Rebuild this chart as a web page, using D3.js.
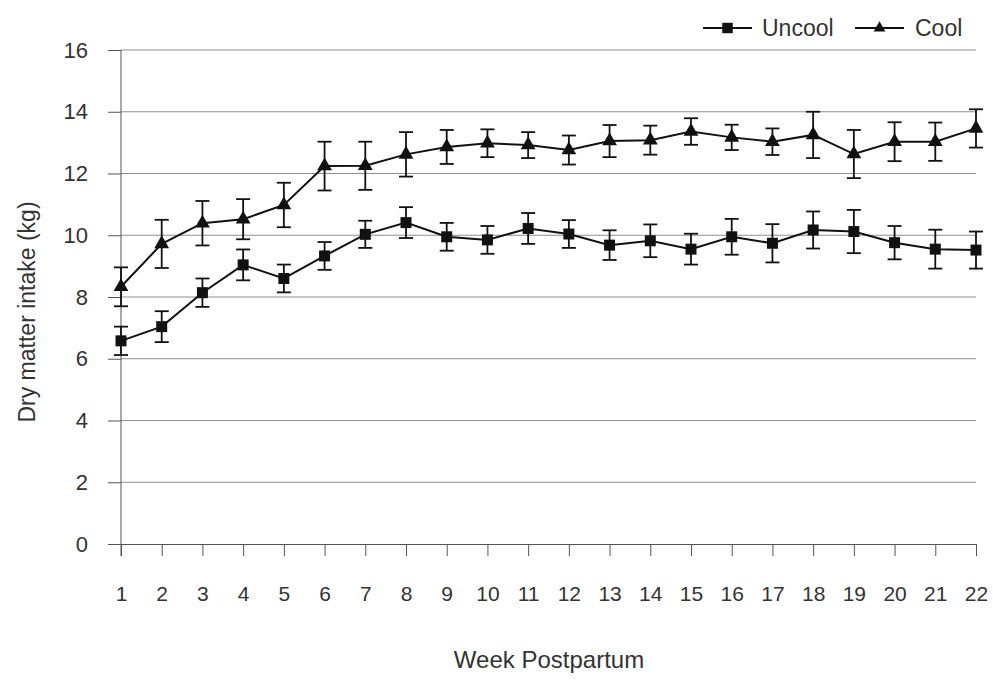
<!DOCTYPE html>
<html>
<head>
<meta charset="utf-8">
<script src="https://cdn.jsdelivr.net/npm/d3@7"></script>
<style>
  html, body { margin: 0; padding: 0; background: #fff; }
  svg { display: block; font-family: "Liberation Sans", Arial, sans-serif; }
</style>
</head>
<body>
<div id="chart"></div>
<script>
// ---- data ----
const weeks = d3.range(1, 23);
const uncool    = [6.58, 7.04, 8.14, 9.04, 8.60, 9.33, 10.03, 10.41, 9.95, 9.85, 10.22, 10.04, 9.68, 9.82, 9.55, 9.95, 9.74, 10.17, 10.12, 9.76, 9.55, 9.52];
const uncoolErr = [0.46, 0.50, 0.46, 0.50, 0.45, 0.45, 0.44, 0.50, 0.45, 0.45, 0.50, 0.45, 0.48, 0.53, 0.50, 0.58, 0.62, 0.60, 0.70, 0.54, 0.63, 0.60];
const cool      = [8.33, 9.72, 10.39, 10.52, 10.98, 12.24, 12.25, 12.62, 12.86, 12.98, 12.92, 12.76, 13.05, 13.08, 13.36, 13.17, 13.03, 13.25, 12.63, 13.03, 13.03, 13.46];
const coolErr   = [0.63, 0.78, 0.72, 0.65, 0.72, 0.79, 0.78, 0.72, 0.55, 0.45, 0.42, 0.47, 0.52, 0.47, 0.43, 0.41, 0.43, 0.75, 0.78, 0.63, 0.62, 0.62];
const yTicks = [0, 2, 4, 6, 8, 10, 12, 14, 16];
const seriesNames = ["Uncool", "Cool"];

const width = 993, height = 685;
const margin = { top: 50, right: 17, bottom: 141, left: 121 };

const svg = d3.select("#chart").append("svg")
  .attr("width", width)
  .attr("height", height);

const x = d3.scalePoint()
  .domain(weeks)
  .range([margin.left, width - margin.right]);

const y = d3.scaleLinear()
  .domain([0, 16])
  .range([height - margin.bottom, margin.top]);

const ink = "#111";
const textColor = "#333";

// gridlines
svg.append("g")
  .selectAll("line")
  .data(yTicks.filter(d => d > 0))
  .join("line")
    .attr("x1", margin.left)
    .attr("x2", width - margin.right)
    .attr("y1", d => y(d))
    .attr("y2", d => y(d))
    .attr("stroke", "#8f8f8f")
    .attr("stroke-width", 1);

// y axis
const yAxis = svg.append("g")
  .attr("transform", `translate(${margin.left},0)`)
  .call(d3.axisLeft(y).tickValues(yTicks).tickSize(13).tickPadding(20).tickSizeOuter(0));
yAxis.select(".domain").attr("stroke", "#555").attr("d", `M0,${y(16)}V${y(0) + 12}`);
yAxis.selectAll(".tick line").attr("stroke", "#555");
yAxis.selectAll("text")
  .attr("fill", textColor)
  .style("font-size", "22px");

// x axis
const xAxis = svg.append("g")
  .attr("transform", `translate(0,${y(0)})`)
  .call(d3.axisBottom(x).tickSize(12).tickPadding(30).tickSizeOuter(0));
xAxis.select(".domain").attr("stroke", "#555");
xAxis.selectAll(".tick line").attr("stroke", "#555");
xAxis.selectAll("text")
  .attr("fill", textColor)
  .style("font-size", "21px");

// axis titles
svg.append("text")
  .attr("x", 549)
  .attr("y", 668)
  .attr("text-anchor", "middle")
  .attr("fill", textColor)
  .style("font-size", "24px")
  .text("Week Postpartum");

svg.append("text")
  .attr("transform", "translate(35,312) rotate(-90)")
  .attr("text-anchor", "middle")
  .attr("fill", textColor)
  .style("font-size", "23px")
  .text("Dry matter intake (kg)");

// series
const series = [
  { name: seriesNames[0], values: uncool, err: uncoolErr, symbol: d3.symbolSquare, size: 121, legendSize: 110 },
  { name: seriesNames[1], values: cool, err: coolErr, symbol: d3.symbolTriangle, size: 95, legendSize: 60 }
];

const line = d3.line()
  .x((d, i) => x(weeks[i]))
  .y(d => y(d));

series.forEach(s => {
  const g = svg.append("g");

  // error bars
  const eb = g.append("g")
    .attr("stroke", ink)
    .attr("stroke-width", 1.8)
    .selectAll("g")
    .data(s.values.map((v, i) => ({ w: weeks[i], v, e: s.err[i] })))
    .join("g");
  eb.append("line")
    .attr("x1", d => x(d.w)).attr("x2", d => x(d.w))
    .attr("y1", d => y(d.v + d.e)).attr("y2", d => y(d.v - d.e));
  eb.append("line")
    .attr("x1", d => x(d.w) - 7).attr("x2", d => x(d.w) + 7)
    .attr("y1", d => y(d.v + d.e)).attr("y2", d => y(d.v + d.e));
  eb.append("line")
    .attr("x1", d => x(d.w) - 7).attr("x2", d => x(d.w) + 7)
    .attr("y1", d => y(d.v - d.e)).attr("y2", d => y(d.v - d.e));

  // line
  g.append("path")
    .datum(s.values)
    .attr("fill", "none")
    .attr("stroke", ink)
    .attr("stroke-width", 2)
    .attr("d", line);

  // markers
  g.append("g")
    .selectAll("path")
    .data(s.values)
    .join("path")
      .attr("transform", (d, i) => `translate(${x(weeks[i])},${y(d)})`)
      .attr("d", d3.symbol(s.symbol, s.size))
      .attr("fill", ink);
});

// legend
const legend = svg.append("g");
const legendItems = [
  { x0: 703, tx: 762, s: series[0] },
  { x0: 855, tx: 915, s: series[1] }
];
legendItems.forEach(it => {
  legend.append("line")
    .attr("x1", it.x0).attr("x2", it.x0 + 49)
    .attr("y1", 28).attr("y2", 28)
    .attr("stroke", ink).attr("stroke-width", 2);
  legend.append("path")
    .attr("transform", `translate(${it.x0 + 24.5},28)`)
    .attr("d", d3.symbol(it.s.symbol, it.s.legendSize))
    .attr("fill", ink);
  legend.append("text")
    .attr("x", it.tx).attr("y", 36)
    .attr("fill", textColor)
    .style("font-size", "23px")
    .text(it.s.name);
});
</script>
</body>
</html>
